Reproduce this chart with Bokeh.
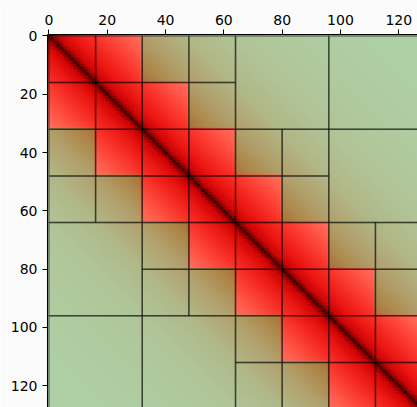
import numpy as np
from bokeh.plotting import figure
from bokeh.models import Range1d, FixedTicker
from bokeh.embed import file_html
from bokeh.resources import INLINE

# ---- data ----
N = 128
leaf = 16
# 32x32 block pairs (in units of 32) that are admissible (low-rank, drawn as one block)
far_blocks_32 = [(0, 2), (0, 3), (1, 3), (2, 0), (3, 0), (3, 1)]
# 32x32 block pairs that are split into four 16x16 leaves
near_blocks_32 = [(0, 0), (0, 1), (1, 0), (1, 1), (1, 2), (2, 1), (2, 2), (2, 3), (3, 2), (3, 3)]

# colour stops against distance |i-j| from the diagonal
dense_d = [0, 1, 3, 8, 16, 24, 31]
dense_r = [55, 135, 205, 235, 250, 255, 255]
dense_g = [0, 0, 5, 22, 52, 85, 110]
dense_b = [0, 0, 5, 18, 42, 70, 95]

lowrank_d = [17, 24, 33, 47, 64, 96, 127]
lowrank_r = [172, 174, 178, 177, 176, 175, 174]
lowrank_g = [115, 138, 160, 183, 197, 205, 208]
lowrank_b = [58, 78, 108, 135, 152, 162, 165]

tick_values = [0, 20, 40, 60, 80, 100, 120]

# ---- build block list ----
blocks = []  # (row0, col0, size)
for a, b in far_blocks_32:
    blocks.append((a * 32, b * 32, 32))
for a, b in near_blocks_32:
    for da in (0, 1):
        for db in (0, 1):
            blocks.append((a * 32 + da * leaf, b * 32 + db * leaf, leaf))

# ---- build image ----
i = np.arange(N)[:, None]
j = np.arange(N)[None, :]
d = np.abs(i - j).astype(float)
dense_mask = np.abs(i // leaf - j // leaf) <= 1

img = np.zeros((N, N, 4), dtype=np.uint8)
for ch, (dv, lv) in enumerate([(dense_r, lowrank_r), (dense_g, lowrank_g), (dense_b, lowrank_b)]):
    dense_c = np.interp(d, dense_d, dv)
    low_c = np.interp(d, lowrank_d, lv)
    img[:, :, ch] = np.where(dense_mask, dense_c, low_c).astype(np.uint8)
img[:, :, 3] = 255
rgba = img.view(dtype=np.uint32).reshape((N, N))

p = figure(width=417, height=407,
           x_range=Range1d(-0.5, 126.43), y_range=Range1d(127.46, -0.5),
           x_axis_location="above",
           output_backend="svg", toolbar_location=None,
           min_border_left=47, min_border_top=34, min_border_right=0, min_border_bottom=0)
p.border_fill_color = "#fbfbfb"
p.background_fill_color = "#fbfbfb"
p.outline_line_color = None
p.grid.visible = False

p.image_rgba(image=[rgba], x=-0.5, y=-0.5, dw=N, dh=N)

left = [b[1] for b in blocks]
right = [b[1] + b[2] for b in blocks]
top = [b[0] for b in blocks]
bottom = [b[0] + b[2] for b in blocks]
p.quad(left=left, right=right, top=top, bottom=bottom,
       fill_color=None, line_color="black", line_alpha=0.42, line_width=1.5)

for ax in (p.xaxis[0], p.yaxis[0]):
    ax.ticker = FixedTicker(ticks=tick_values)
    ax.major_label_text_font = "DejaVu Sans"
    ax.major_label_text_font_size = "14px"
    ax.major_label_text_color = "black"
    ax.axis_line_color = "black"
    ax.axis_line_width = 1
    ax.major_tick_line_color = "black"
    ax.major_tick_out = 5
    ax.major_tick_in = 0
    ax.minor_tick_line_color = None
    ax.major_label_standoff = 5

open("out.html", "w").write(file_html(p, INLINE))
